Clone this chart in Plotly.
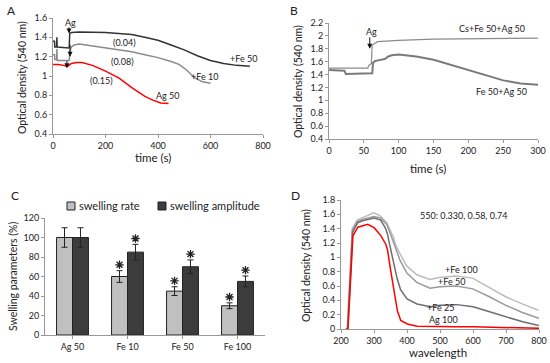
import plotly.graph_objects as go

W, H = 550, 363
FONT = "Lato"

# ---------- Panel A data ----------
a_black_t = [0, 6, 7, 14, 15, 16, 60, 62, 64, 70, 100, 150, 200, 250, 300, 350, 400, 450, 500, 550, 600, 650, 700, 750]
a_black_y = [1.36, 1.36, 1.30, 1.30, 1.40, 1.30, 1.29, 1.30, 1.44, 1.45, 1.455, 1.455, 1.45, 1.44, 1.43, 1.40, 1.37, 1.32, 1.27, 1.21, 1.16, 1.13, 1.11, 1.10]
a_gray_t = [0, 6, 7, 14, 15, 16, 62, 64, 70, 80, 100, 150, 200, 250, 300, 350, 400, 450, 480, 510, 540, 570, 600]
a_gray_y = [1.22, 1.22, 1.17, 1.17, 1.28, 1.16, 1.16, 1.26, 1.30, 1.32, 1.33, 1.31, 1.29, 1.27, 1.25, 1.22, 1.19, 1.15, 1.12, 1.06, 0.98, 0.94, 0.925]
a_red_t = [0, 20, 40, 55, 70, 90, 110, 150, 200, 250, 300, 350, 380, 410, 440]
a_red_y = [1.12, 1.12, 1.11, 1.10, 1.13, 1.14, 1.14, 1.11, 1.05, 0.98, 0.88, 0.79, 0.75, 0.72, 0.715]

# ---------- Panel B data ----------
b_top_t = [0, 56, 57, 61, 62, 65, 70, 80, 100, 150, 200, 250, 300]
b_top_y = [1.50, 1.50, 1.54, 1.57, 1.85, 1.88, 1.91, 1.92, 1.93, 1.95, 1.955, 1.96, 1.965]
b_bot_t = [0, 22, 24, 30, 35, 62, 63, 66, 70, 80, 85, 90, 100, 110, 125, 150, 175, 200, 225, 250, 275, 300]
b_bot_y = [1.47, 1.46, 1.41, 1.41, 1.42, 1.42, 1.58, 1.61, 1.62, 1.64, 1.68, 1.70, 1.71, 1.70, 1.68, 1.63, 1.55, 1.46, 1.38, 1.31, 1.26, 1.24]

# ---------- Panel C data ----------
c_cats = ["Ag 50", "Fe 10", "Fe 50", "Fe 100"]
c_rate = [100, 60, 45, 30]
c_rate_err = [10, 6, 4.5, 3]
c_amp = [100, 85, 70, 55]
c_amp_err = [10, 8, 7, 5.5]
c_sig = [False, True, True, True]

# ---------- Panel D data ----------
d_w = [215, 220, 235, 250, 265, 280, 300, 320, 335, 340, 350, 360, 365, 370, 380, 400, 430, 470, 500, 550, 600, 650, 700, 750, 800]
d_ag100 = [0, 0, 1.30, 1.42, 1.44, 1.46, 1.41, 1.30, 1.18, 1.10, 0.80, 0.50, 0.36, 0.25, 0.12, 0.07, 0.04, 0.035, 0.03, 0.03, 0.03, 0.025, 0.02, 0.015, 0.01]
d_fe25 = [0, 0, 1.35, 1.48, 1.51, 1.53, 1.55, 1.52, 1.40, 1.33, 1.10, 0.90, 0.80, 0.70, 0.55, 0.42, 0.35, 0.31, 0.33, 0.34, 0.31, 0.24, 0.17, 0.10, 0.05]
d_fe50 = [0, 0, 1.38, 1.50, 1.53, 1.55, 1.57, 1.55, 1.48, 1.45, 1.33, 1.20, 1.12, 1.06, 0.95, 0.78, 0.65, 0.57, 0.59, 0.60, 0.56, 0.45, 0.33, 0.23, 0.15]
d_fe100 = [0, 0, 1.40, 1.52, 1.55, 1.58, 1.62, 1.58, 1.51, 1.48, 1.38, 1.28, 1.20, 1.14, 1.05, 0.88, 0.76, 0.69, 0.72, 0.74, 0.71, 0.58, 0.45, 0.35, 0.26]

C_LIGHT = "#c0c0c0"
C_DARK = "#3c3c3c"


def px(x):
    return x / W


def py(y):
    return 1 - y / H


fig = go.Figure()

# Panel A
fig.add_trace(go.Scatter(x=a_black_t, y=a_black_y, mode="lines", line=dict(color="#333333", width=1.5), xaxis="x", yaxis="y", showlegend=False))
fig.add_trace(go.Scatter(x=a_gray_t, y=a_gray_y, mode="lines", line=dict(color="#8a8a8a", width=1.5), xaxis="x", yaxis="y", showlegend=False))
fig.add_trace(go.Scatter(x=a_red_t, y=a_red_y, mode="lines", line=dict(color="#ff0000", width=1.5), xaxis="x", yaxis="y", showlegend=False))

# Panel B
fig.add_trace(go.Scatter(x=b_top_t, y=b_top_y, mode="lines", line=dict(color="#8a8a8a", width=1.2), xaxis="x2", yaxis="y2", showlegend=False))
fig.add_trace(go.Scatter(x=b_bot_t, y=b_bot_y, mode="lines", line=dict(color="#7a7a7a", width=2), xaxis="x2", yaxis="y2", showlegend=False))

# Panel C
fig.add_trace(go.Bar(x=c_cats, y=c_rate, name="swelling rate", offsetgroup="rate", marker=dict(color=C_LIGHT, line=dict(color="#222222", width=1)),
                     error_y=dict(type="data", array=c_rate_err, color="#222222", thickness=1, width=3), xaxis="x3", yaxis="y3", showlegend=False))
fig.add_trace(go.Bar(x=c_cats, y=c_amp, name="swelling amplitude", offsetgroup="amp", marker=dict(color=C_DARK, line=dict(color="#222222", width=1)),
                     error_y=dict(type="data", array=c_amp_err, color="#222222", thickness=1, width=3), xaxis="x3", yaxis="y3", showlegend=False))
# significance asterisks as markers
for vals, errs, grp in [(c_rate, c_rate_err, "rate"), (c_amp, c_amp_err, "amp")]:
    xs = [c for c, s in zip(c_cats, c_sig) if s]
    ys = [v + e + 6 for v, e, s in zip(vals, errs, c_sig) if s]
    fig.add_trace(go.Scatter(x=xs, y=ys, mode="markers", offsetgroup=grp, xaxis="x3", yaxis="y3", showlegend=False,
                             marker=dict(symbol="asterisk-open", size=7, color="#222222", line=dict(color="#222222", width=1.3))))

# Panel D
fig.add_trace(go.Scatter(x=d_w, y=d_fe100, mode="lines", line=dict(color="#bcbcbc", width=1.5), xaxis="x4", yaxis="y4", showlegend=False))
fig.add_trace(go.Scatter(x=d_w, y=d_fe50, mode="lines", line=dict(color="#9a9a9a", width=1.5), xaxis="x4", yaxis="y4", showlegend=False))
fig.add_trace(go.Scatter(x=d_w, y=d_fe25, mode="lines", line=dict(color="#6e6e6e", width=1.5), xaxis="x4", yaxis="y4", showlegend=False))
fig.add_trace(go.Scatter(x=d_w, y=d_ag100, mode="lines", line=dict(color="#ff0000", width=1.5), xaxis="x4", yaxis="y4", showlegend=False))

tickfont = dict(family=FONT, size=9, color="#222222")
axcommon = dict(showgrid=False, zeroline=False, showline=True, linecolor="#999999", linewidth=1,
                ticks="outside", ticklen=3, tickcolor="#999999", tickfont=tickfont, automargin=False)

fig.update_layout(
    width=W, height=H, margin=dict(l=0, r=0, t=0, b=0, pad=0),
    paper_bgcolor="white", plot_bgcolor="white",
    font=dict(family=FONT, size=10, color="#222222"),
    barmode="group", bargap=0.42, bargroupgap=0, showlegend=False,
    scattermode="group", scattergap=0.42,
    xaxis=dict(domain=[px(53), px(263)], range=[0, 800], dtick=200, anchor="y", **axcommon),
    yaxis=dict(domain=[py(134), py(18)], range=[0.4, 1.6], dtick=0.2, anchor="x", **axcommon),
    xaxis2=dict(domain=[px(329), px(538)], range=[0, 300], dtick=50, anchor="y2", **axcommon),
    yaxis2=dict(domain=[py(139), py(23)], range=[0.4, 2.2], dtick=0.2, anchor="x2", **axcommon),
    xaxis3=dict(domain=[px(45), px(265)], anchor="y3", **axcommon),
    yaxis3=dict(domain=[py(335), py(218)], range=[0, 120], dtick=20, anchor="x3", **axcommon),
    xaxis4=dict(domain=[px(341), px(539)], range=[200, 800], dtick=100, anchor="y4", **axcommon),
    yaxis4=dict(domain=[py(329), py(200)], range=[0, 1.8], dtick=0.2, anchor="x4", **axcommon),
)

ann = []
shapes = []


def paper_text(text, x, y, size=10, angle=0, xanchor="center"):
    ann.append(dict(text=text, x=px(x), y=py(y), xref="paper", yref="paper", showarrow=False,
                    font=dict(family=FONT, size=size, color="#222222"), textangle=angle,
                    xanchor=xanchor, yanchor="middle"))


def data_text(text, x, y, xr, yr, size=9):
    ann.append(dict(text=text, x=x, y=y, xref=xr, yref=yr, showarrow=False,
                    font=dict(family=FONT, size=size, color="#222222"), xanchor="center", yanchor="middle"))


def arrow(x, y0, y1, xr, yr):
    ann.append(dict(text="", x=x, y=y1, ax=x, ay=y0, xref=xr, yref=yr, axref=xr, ayref=yr,
                    showarrow=True, arrowhead=2, arrowsize=1, arrowwidth=1, arrowcolor="#111111"))


# panel letters
paper_text("A", 11, 10, 12)
paper_text("B", 294, 10, 12)
paper_text("C", 15, 195, 12)
paper_text("D", 295, 195, 12)

# axis titles
paper_text("Optical density (540 nm)", 22, 78, 10.5, -90)
paper_text("time (s)", 153, 157, 11.5)
paper_text("Optical density (540 nm)", 298, 82, 10.5, -90)
paper_text("time (s)", 428, 168, 11.5)
paper_text("Swelling parameters (%)", 13, 277, 10.5, -90)
paper_text("Optical density (540 nm)", 306, 266, 10.5, -90)
paper_text("wavelength", 438, 352, 11.5)

# Panel C legend (manual)
for (x0, col, label) in [(67, C_LIGHT, "swelling rate"), (158, C_DARK, "swelling amplitude")]:
    shapes.append(dict(type="rect", xref="paper", yref="paper", x0=px(x0), x1=px(x0 + 8),
                       y0=py(210), y1=py(202), fillcolor=col, line=dict(color="#222222", width=1)))
    paper_text(label, x0 + 10, 206, 11, 0, "left")

# Panel A annotations
data_text("Ag", 68, 1.55, "x", "y")
data_text("(0.04)", 273, 1.35, "x", "y")
data_text("(0.08)", 264, 1.155, "x", "y")
data_text("(0.15)", 184, 0.955, "x", "y")
data_text("+Fe 50", 724, 1.18, "x", "y")
data_text("+Fe 10", 578, 1.0, "x", "y")
data_text("Ag 50", 438, 0.80, "x", "y")
arrow(61, 1.52, 1.44, "x", "y")
arrow(65, 1.34, 1.20, "x", "y")
arrow(53, 1.17, 1.08, "x", "y")

# Panel B annotations
data_text("Ag", 61, 2.07, "x2", "y2")
data_text("Cs+Fe 50+Ag 50", 234, 2.11, "x2", "y2")
data_text("Fe 50+Ag 50", 248, 1.14, "x2", "y2")
arrow(58.5, 2.00, 1.80, "x2", "y2")

# Panel D annotations
data_text("550: 0.330, 0.58, 0.74", 570, 1.58, "x4", "y4")
data_text("+Fe 100", 565, 0.83, "x4", "y4")
data_text("+Fe 50", 535, 0.66, "x4", "y4")
data_text("+Fe 25", 500, 0.30, "x4", "y4")
data_text("Ag 100", 510, 0.135, "x4", "y4")

fig.update_layout(annotations=ann, shapes=shapes)
fig.write_html("out.html", config={"displayModeBar": False},
               post_script="document.body.style.margin='0px';document.body.style.overflow='hidden';")
